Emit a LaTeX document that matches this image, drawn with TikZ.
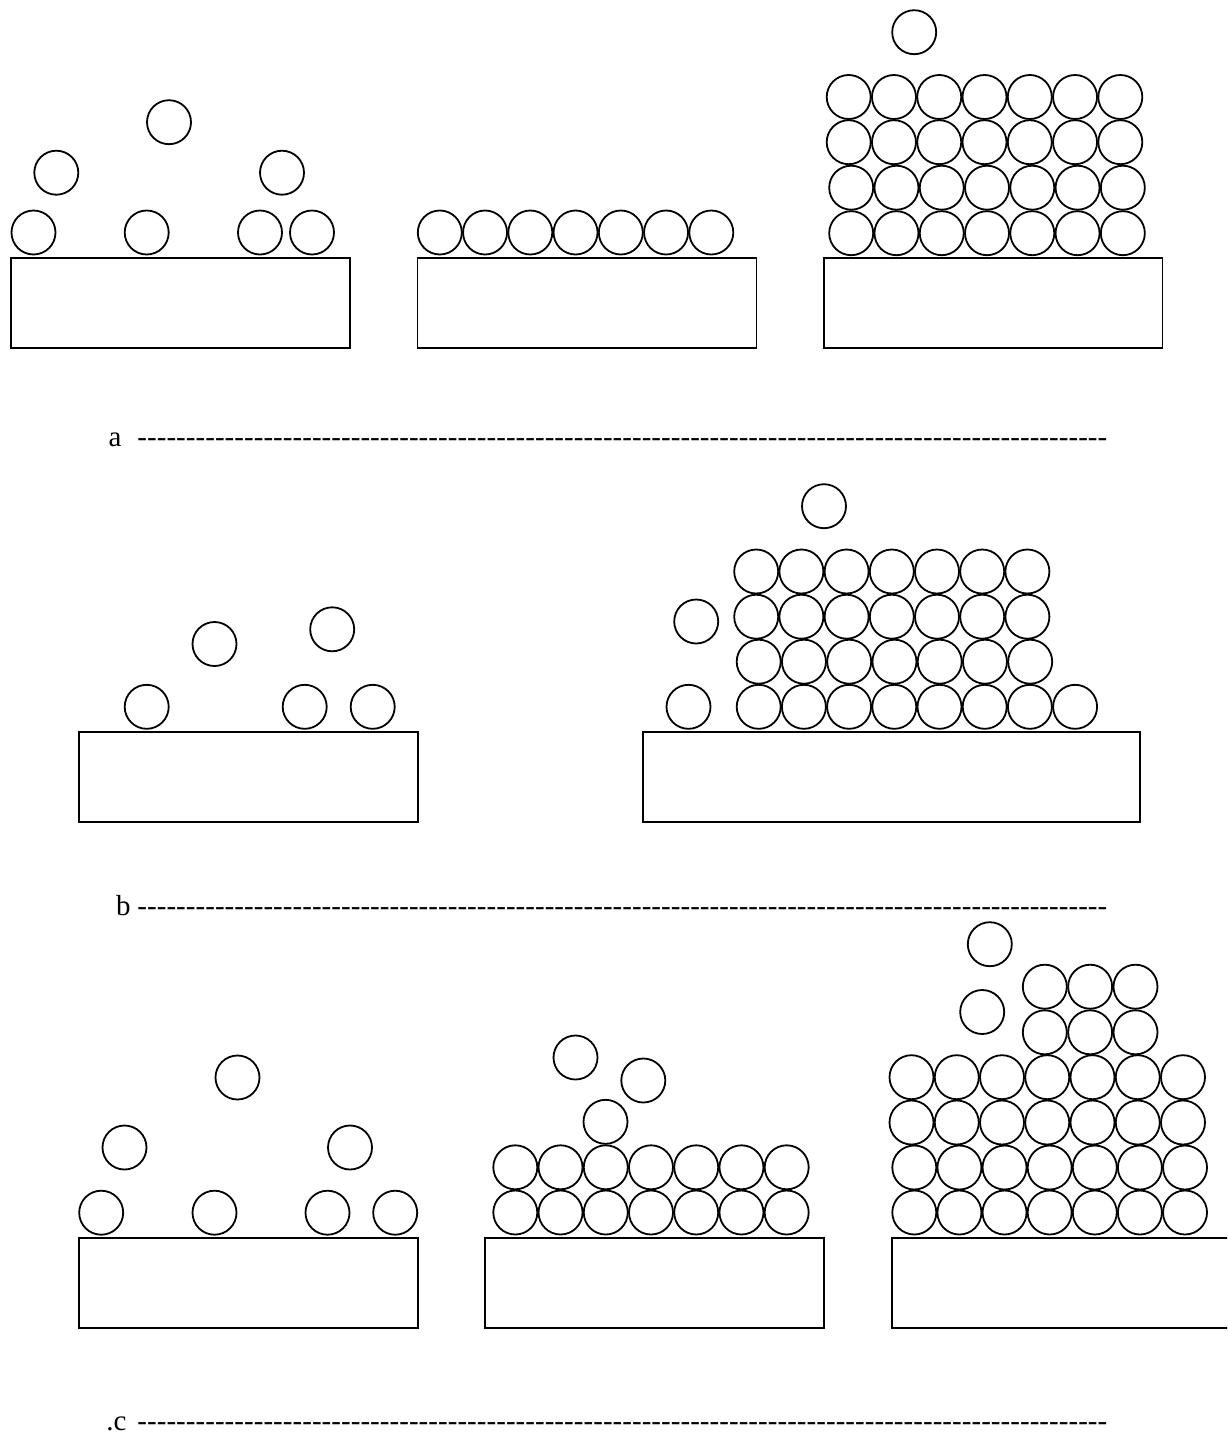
\documentclass[tikz,border=0pt]{standalone}
\usepackage{fontspec}
\setmainfont{Liberation Serif}
\newcommand\dashrule{\hbox to 485pt{\xleaders\hbox{-}\hfill}}
\begin{document}
\begin{tikzpicture}[x=0.5pt,y=-0.5pt,
  ball/.style={line width=0.9pt},
  base/.style={line width=0.9pt},
  lbl/.style={font=\fontsize{14.5}{16}\selectfont, inner sep=0pt}]
\useasboundingbox (0,0) rectangle (1227,1435);
\clip (0,0) rectangle (1227,1435);
\fill[white] (0,0) rectangle (1227,1435);
\def\R{22}
% ---------- row a ----------
\draw[base] (11,258) rectangle (350,348);
\foreach \x/\y in {33.5/232.5,146.7/232.5,260/232.5,312/232.5,56.3/172.7,169/122.2,282/172.7}
  \draw[ball] (\x,\y) circle[radius=\R];
\draw[base] (417.5,258) rectangle (756.5,348);
\foreach \i in {0,...,6} \draw[ball] ({439.8+45.25*\i},232.5) circle[radius=\R];
\draw[base] (824,258) rectangle (1162.5,348);
\foreach \y in {97,142.2} \foreach \i in {0,...,6} \draw[ball] ({848.7+45.27*\i},\y) circle[radius=\R];
\foreach \y in {187.7,233.2} \foreach \i in {0,...,6} \draw[ball] ({851.2+45.27*\i},\y) circle[radius=\R];
\draw[ball] (914.2,32.2) circle[radius=\R];
\node[lbl, anchor=base east] (la) at (122,446) {a};
\node[lbl, anchor=base west] (da) at (137,446) {\dashrule};
% ---------- row b ----------
\draw[base] (79,732) rectangle (417.7,822);
\foreach \x/\y in {146.7/706.8,304.7/706.8,372.7/706.8,214.5/644,332.2/629.3}
  \draw[ball] (\x,\y) circle[radius=\R];
\draw[base] (643.3,732.3) rectangle (1140,821.7);
\draw[ball] (688.5,706.8) circle[radius=\R];
\foreach \i in {0,...,7} \draw[ball] ({758.7+45.2*\i},706.8) circle[radius=\R];
\foreach \i in {0,...,6} \draw[ball] ({758.7+45.25*\i},661.7) circle[radius=\R];
\foreach \y in {616.7,571.5} \foreach \i in {0,...,6} \draw[ball] ({756.2+45.2*\i},\y) circle[radius=\R];
\draw[ball] (696.2,621.5) circle[radius=\R];
\draw[ball] (824,506.2) circle[radius=\R];
\node[lbl, anchor=base east] (lb) at (131,915) {b};
\node[lbl, anchor=base west] (db) at (137,915) {\dashrule};
% ---------- row c ----------
\draw[base] (79,1237.7) rectangle (417.7,1328);
\foreach \x/\y in {101.2/1212.7,214.5/1212.7,327.5/1212.7,395.2/1212.7,124.5/1147.5,350/1147.5,237.5/1077.5}
  \draw[ball] (\x,\y) circle[radius=\R];
\draw[base] (485,1237.7) rectangle (824,1328.3);
\foreach \y in {1212.5,1167.3} \foreach \i in {0,...,6} \draw[ball] ({515.3+45.23*\i},\y) circle[radius=\R];
\foreach \x/\y in {605.5/1121.8,643.3/1080.5,575.5/1057.5}
  \draw[ball] (\x,\y) circle[radius=\R];
\draw[base] (1240,1237.7) -- (891.7,1237.7) -- (891.7,1327.7) -- (1240,1327.7);
\foreach \y in {1212.5,1167.5} \foreach \i in {0,...,6} \draw[ball] ({914.3+45.12*\i},\y) circle[radius=\R];
\foreach \y in {1122.5,1077.2} \foreach \i in {0,...,6} \draw[ball] ({911.5+45.25*\i},\y) circle[radius=\R];
\foreach \y in {986.7,1032.3} \foreach \i in {0,...,2} \draw[ball] ({1044.8+45.35*\i},\y) circle[radius=\R];
\draw[ball] (989.8,944.2) circle[radius=\R];
\draw[ball] (982.2,1012) circle[radius=\R];
\node[lbl, anchor=base east] (lc) at (127,1430) {.c};
\node[lbl, anchor=base west] (dc) at (137,1430) {\dashrule};
\end{tikzpicture}
\end{document}
